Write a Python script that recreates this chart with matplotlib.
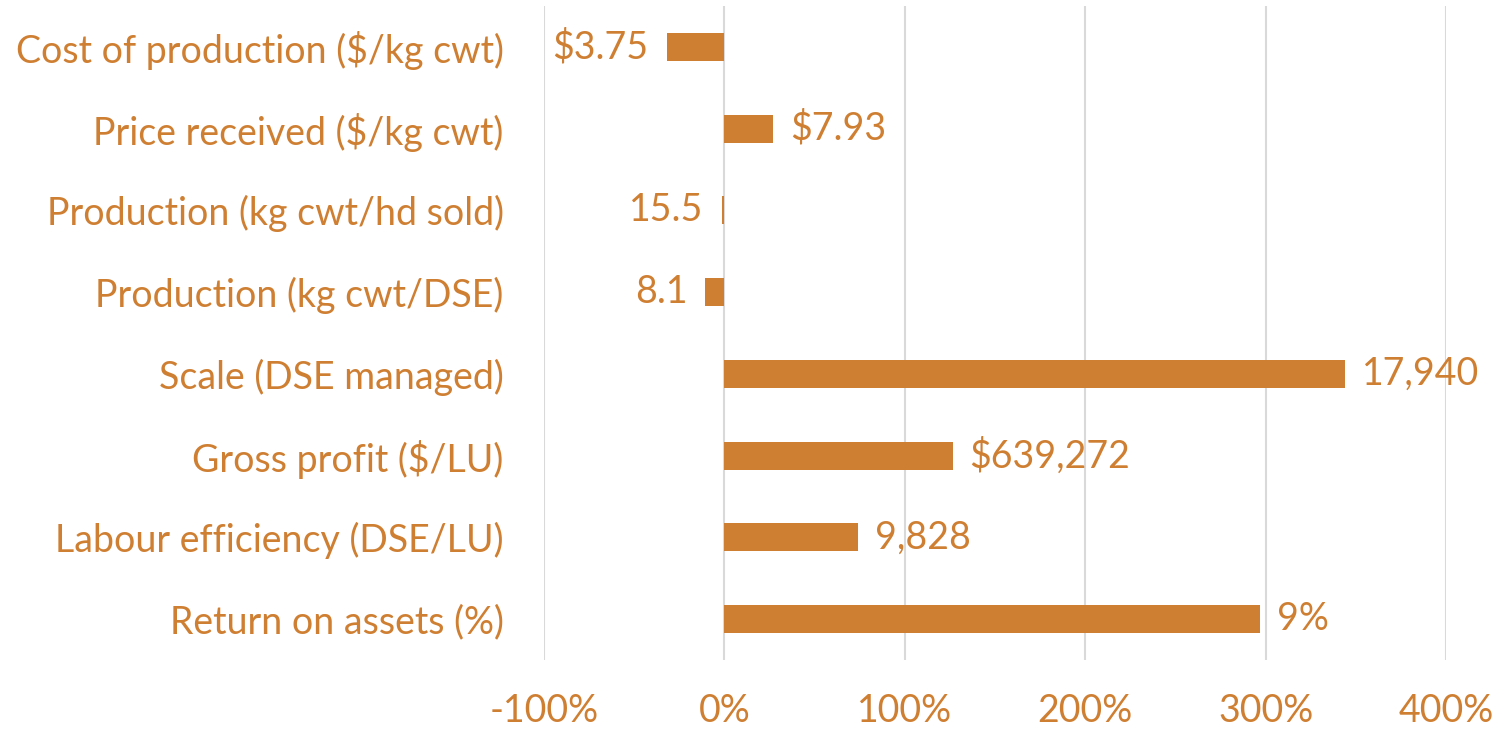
import matplotlib
matplotlib.use("Agg")
import matplotlib.pyplot as plt
from matplotlib.ticker import FuncFormatter

categories = [
    "Cost of production ($/kg cwt)",
    "Price received ($/kg cwt)",
    "Production (kg cwt/hd sold)",
    "Production (kg cwt/DSE)",
    "Scale (DSE managed)",
    "Gross profit ($/LU)",
    "Labour efficiency (DSE/LU)",
    "Return on assets (%)",
]
pct_values = [-0.32, 0.27, -0.015, -0.105, 3.44, 1.265, 0.74, 2.97]
value_labels = ["$3.75", "$7.93", "15.5", "8.1", "17,940", "$639,272", "9,828", "9%"]
xticks = [-1, 0, 1, 2, 3, 4]

color = "#CF7F32"
plt.rcParams['font.family'] = ['Lato', 'DejaVu Sans']
FS = 27

fig = plt.figure(figsize=(14.99, 7.31), dpi=100)
ax = fig.add_axes([544/1499, 1-660/731, (1446-544)/1499, (660-6)/731])

y = list(range(len(categories)))
ax.barh(y, pct_values, height=0.34, color=color, zorder=3)
ax.set_ylim(len(categories)-0.5, -0.5)
ax.set_xlim(-1, 4)
ax.set_xticks(xticks)
ax.xaxis.set_major_formatter(FuncFormatter(lambda v, p: f"{v*100:.0f}%"))
ax.set_yticks(y)
ax.set_yticklabels(categories)
ax.tick_params(axis='both', length=0, labelsize=FS, colors=color)
ax.tick_params(axis='y', pad=29)
ax.tick_params(axis='x', pad=24)
for s in ax.spines.values():
    s.set_visible(False)
ax.grid(axis='x', color='#D9D9D9', linewidth=1.5, zorder=0)
ax.set_axisbelow(True)

for yi, v, lab in zip(y, pct_values, value_labels):
    if v >= 0:
        ax.annotate(lab, (v, yi), xytext=(12, 0), textcoords='offset points',
                    ha='left', va='center', fontsize=FS, color=color)
    else:
        ax.annotate(lab, (v, yi), xytext=(-13, 0), textcoords='offset points',
                    ha='right', va='center', fontsize=FS, color=color)

fig.savefig("out.png", dpi=100, facecolor='white')
